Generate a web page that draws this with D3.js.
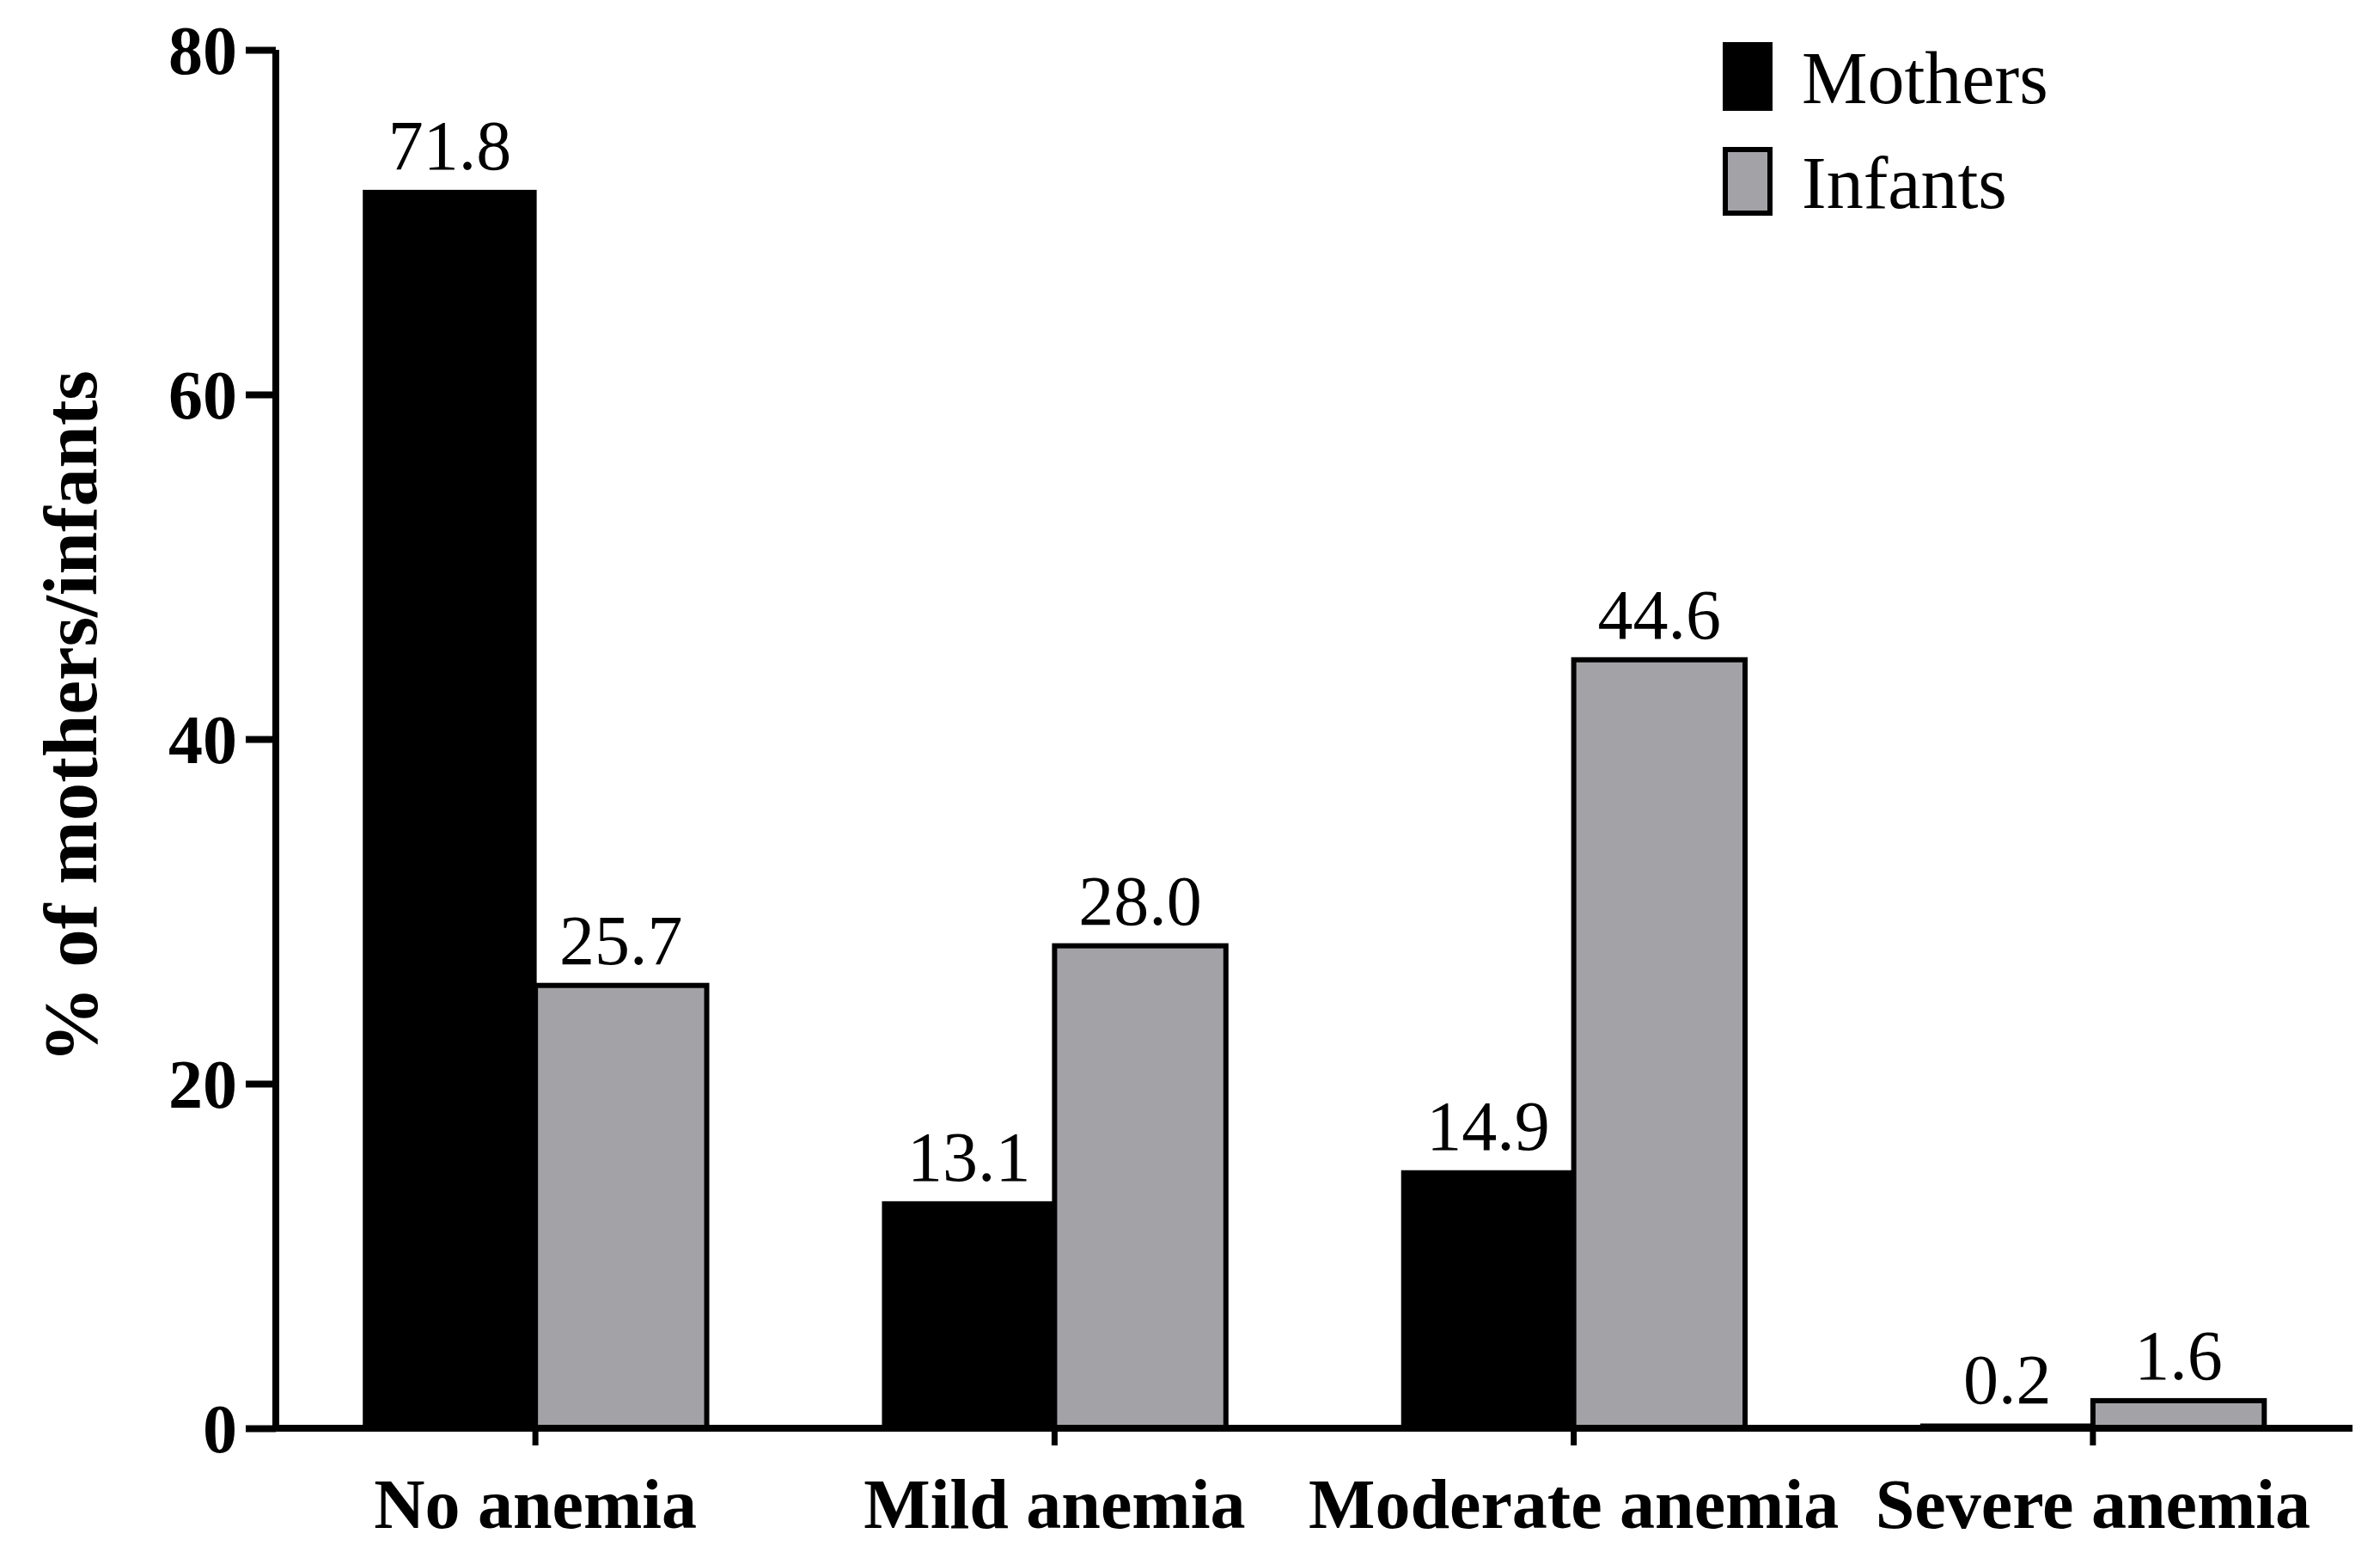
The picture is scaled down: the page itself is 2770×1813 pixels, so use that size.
<!DOCTYPE html>
<html>
<head>
<meta charset="utf-8">
<script src="https://cdn.jsdelivr.net/npm/d3@7"></script>
<style>
  html, body { margin: 0; padding: 0; background: #fff; }
  svg { display: block; }
  text { font-family: "Liberation Serif", "Times New Roman", serif; fill: #000; }
</style>
</head>
<body>
<svg id="chart" width="2770" height="1813"></svg>
<script>
const categories = ["No anemia", "Mild anemia", "Moderate anemia", "Severe anemia"];
const seriesNames = ["Mothers", "Infants"];
const mothers = [71.8, 13.1, 14.9, 0.2];
const infants = [25.7, 28.0, 44.6, 1.6];
const yTicks = [0, 20, 40, 60, 80];
const colors = ["#000000", "#a3a2a7"];

(function () {
const svg = d3.select("#chart");
const mLeft = 321, mRight = 2738, mTop = 58, mBottom = 1662;

const x = d3.scaleBand().domain(categories).range([mLeft, mRight]).paddingInner(0.34).paddingOuter(0.17);
const xs = d3.scaleBand().domain(seriesNames).range([0, x.bandwidth()]);
const y = d3.scaleLinear().domain([0, 80]).range([mBottom, mTop]);

const data = categories.map((c, i) => ({ cat: c, values: [mothers[i], infants[i]] }));

const g = svg.append("g");
data.forEach(d => {
  d.values.forEach((v, j) => {
    const bx = x(d.cat) + xs(seriesNames[j]);
    const by = y(v);
    g.append("rect").attr("x", bx).attr("y", by).attr("width", xs.bandwidth()).attr("height", mBottom - by)
      .attr("fill", colors[j]).attr("stroke", "#000").attr("stroke-width", j === 0 ? 3 : 6);
    g.append("text").attr("x", bx + xs.bandwidth() / 2).attr("y", by - 25)
      .attr("text-anchor", "middle").attr("font-size", 82).text(v.toFixed(1));
  });
});

const yAxis = svg.append("g").attr("transform", `translate(${mLeft},0)`)
  .call(d3.axisLeft(y).tickValues(yTicks).tickSize(35).tickPadding(10).tickFormat(d3.format("d")));
yAxis.select(".domain").attr("d", `M0,${mTop}V${mBottom}`).attr("stroke", "#000").attr("stroke-width", 8);
yAxis.selectAll(".tick line").attr("stroke", "#000").attr("stroke-width", 8);
yAxis.selectAll(".tick text").attr("font-size", 80).attr("font-weight", "bold")
  .attr("font-family", "Liberation Serif").attr("dy", "0.34em");

const xAxis = svg.append("g").attr("transform", `translate(0,${mBottom})`)
  .call(d3.axisBottom(x).tickSize(20).tickPadding(38));
xAxis.select(".domain").attr("d", `M${mLeft},0H${mRight}`).attr("stroke", "#000").attr("stroke-width", 8);
xAxis.selectAll(".tick line").attr("stroke", "#000").attr("stroke-width", 7);
xAxis.selectAll(".tick text").attr("font-size", 82).attr("font-weight", "bold")
  .attr("font-family", "Liberation Serif");

svg.append("text").attr("transform", `translate(112,834) rotate(-90)`)
  .attr("text-anchor", "middle").attr("font-size", 89).attr("font-weight", "bold")
  .text("% of mothers/infants");

const legend = svg.append("g");
seriesNames.forEach((s, i) => {
  const ly = 49 + i * 122;
  legend.append("rect").attr("x", i === 0 ? 2005 : 2008).attr("y", i === 0 ? ly : ly + 3)
    .attr("width", i === 0 ? 58 : 52).attr("height", i === 0 ? 80 : 74)
    .attr("fill", colors[i]).attr("stroke", i === 0 ? "none" : "#000").attr("stroke-width", 6);
  legend.append("text").attr("x", 2097).attr("y", ly + 71).attr("font-size", 86).text(s);
});
})();
</script>
</body>
</html>
